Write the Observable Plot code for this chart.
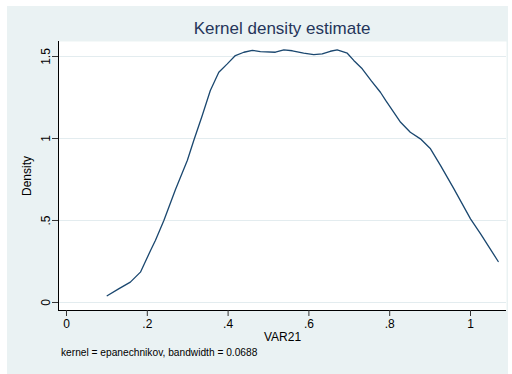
<!DOCTYPE html>
<html><head><meta charset="utf-8">
<script src="https://cdn.jsdelivr.net/npm/d3@7"></script>
<script src="https://cdn.jsdelivr.net/npm/@observablehq/plot@0.6"></script>
<style>
body{margin:0;background:#fff;}
#wrap{position:relative;width:512px;height:374px;overflow:hidden;font-family:"Liberation Sans",Arial,sans-serif;}
#bg{position:absolute;left:7px;top:6px;width:501px;height:368px;background:#eaf2f3;}
#title{position:absolute;left:58px;width:448px;top:18px;text-align:center;font-size:17px;color:#25355a;line-height:21px;}
#caption{position:absolute;left:61px;top:347px;font-size:10.2px;color:#000;line-height:12px;}
#chart{position:absolute;left:0;top:0;}
</style></head>
<body>
<div id="wrap">
<div id="bg"></div>
<div id="chart"></div>
<div id="title">Kernel density estimate</div>
<div id="caption">kernel = epanechnikov, bandwidth = 0.0688</div>
</div>
<script>
const xVals = [0.1007,0.129,0.158,0.183,0.208,0.22,0.241,0.27,0.299,0.315,0.336,0.356,0.377,0.398,0.418,0.439,0.46,0.48,0.517,0.538,0.559,0.587,0.612,0.633,0.653,0.67,0.695,0.711,0.732,0.755,0.777,0.79,0.827,0.851,0.876,0.901,0.926,0.959,1.0,1.025,1.0686];
const density = [0.041,0.083,0.124,0.185,0.317,0.378,0.50,0.69,0.866,0.988,1.14,1.293,1.404,1.455,1.506,1.526,1.537,1.53,1.526,1.54,1.535,1.52,1.512,1.516,1.532,1.54,1.52,1.476,1.425,1.35,1.282,1.232,1.099,1.038,0.998,0.937,0.835,0.693,0.51,0.419,0.25];
const xTicks = [0,0.2,0.4,0.6,0.8,1];
const xTickLabels = ["0",".2",".4",".6",".8","1"];
const yTicks = [0,0.5,1,1.5];
const yTickLabels = ["0",".5","1","1.5"];
const xDomain = [-0.0198,1.0891];
const yDomain = [-0.0488,1.5915];

const data = xVals.map((x,i)=>({x, y: density[i]}));

const chart = Plot.plot({
  width:512, height:374,
  marginLeft:58, marginRight:6, marginTop:41, marginBottom:64,
  style:{background:"transparent", fontFamily:"'Liberation Sans', Arial, sans-serif", fontSize:"12px", color:"#000"},
  x:{domain:xDomain},
  y:{domain:yDomain},
  marks:[
    Plot.frame({fill:"white", stroke:null}),
    Plot.ruleY(yTicks,{stroke:"#e3ecef", strokeWidth:1}),
    Plot.line(data,{x:"x", y:"y", stroke:"#1a476f", strokeWidth:1.3}),
    Plot.ruleY([yDomain[0]],{stroke:"#000", strokeWidth:1}),
    Plot.ruleX([xDomain[0]],{stroke:"#000", strokeWidth:1}),
    Plot.axisX({ticks:xTicks, tickFormat:(d,i)=>xTickLabels[i], tickSize:6, tickPadding:3, stroke:"#333",
      label:"VAR21", labelAnchor:"center", labelArrow:"none", labelOffset:30}),
    Plot.axisY({ticks:yTicks, tickFormat:(d,i)=>yTickLabels[i], tickSize:6, tickPadding:3, tickRotate:-90, stroke:"#333",
      label:"Density", labelAnchor:"center", labelArrow:"none", labelOffset:36})
  ]
});
document.getElementById("chart").appendChild(chart);
</script>
</body></html>
